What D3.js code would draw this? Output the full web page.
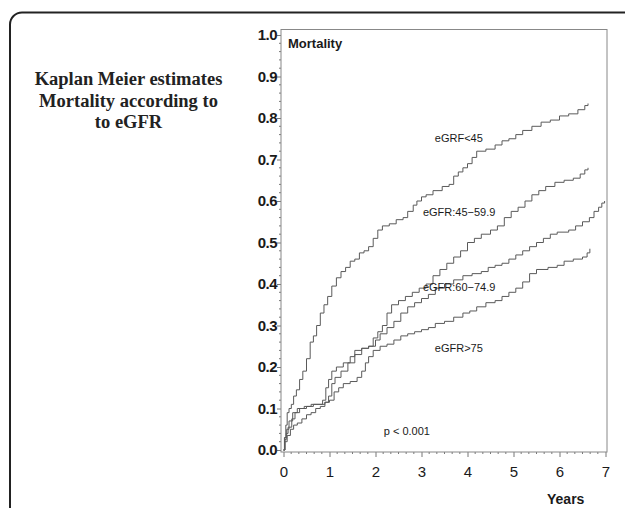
<!DOCTYPE html>
<html>
<head>
<meta charset="utf-8">
<script src="https://cdn.jsdelivr.net/npm/d3@7"></script>
<style>
  body { margin: 0; background: #fff; }
  svg { display: block; }
</style>
</head>
<body>
<div id="chart"></div>
<script>
// Kaplan Meier mortality by eGFR group, steps [years, mortality]
const gfrBelow45 = [[0,0],[0.02,0.03],[0.05,0.06],[0.08,0.09],[0.12,0.1],[0.17,0.11],[0.22,0.13],[0.28,0.145],[0.35,0.17],[0.42,0.19],[0.5,0.22],[0.58,0.26],[0.65,0.275],[0.72,0.3],[0.8,0.33],[0.88,0.35],[0.96,0.37],[1.05,0.395],[1.15,0.415],[1.25,0.43],[1.35,0.44],[1.45,0.455],[1.55,0.46],[1.65,0.475],[1.75,0.48],[1.85,0.49],[1.95,0.51],[2.05,0.53],[2.15,0.54],[2.3,0.545],[2.45,0.555],[2.6,0.56],[2.7,0.575],[2.82,0.59],[2.9,0.6],[3.0,0.61],[3.1,0.615],[3.25,0.625],[3.45,0.635],[3.6,0.64],[3.7,0.66],[3.8,0.67],[3.9,0.68],[4.0,0.69],[4.1,0.705],[4.2,0.72],[4.4,0.725],[4.6,0.735],[4.75,0.745],[4.9,0.75],[5.05,0.76],[5.2,0.77],[5.4,0.78],[5.6,0.79],[5.8,0.795],[6.0,0.805],[6.2,0.81],[6.4,0.82],[6.55,0.83],[6.62,0.835]]
const gfr45to59 = [[0,0],[0.03,0.03],[0.07,0.05],[0.12,0.07],[0.2,0.09],[0.3,0.1],[0.45,0.105],[0.6,0.11],[0.85,0.12],[0.92,0.15],[0.98,0.17],[1.05,0.19],[1.15,0.2],[1.3,0.21],[1.45,0.225],[1.55,0.24],[1.7,0.245],[1.85,0.25],[1.95,0.27],[2.05,0.285],[2.15,0.3],[2.25,0.33],[2.35,0.35],[2.5,0.36],[2.65,0.37],[2.8,0.38],[2.95,0.39],[3.1,0.4],[3.25,0.42],[3.4,0.435],[3.55,0.45],[3.7,0.465],[3.85,0.48],[4.0,0.5],[4.15,0.51],[4.3,0.52],[4.5,0.53],[4.65,0.54],[4.8,0.56],[4.95,0.575],[5.1,0.585],[5.25,0.6],[5.4,0.615],[5.55,0.625],[5.7,0.635],[5.9,0.645],[6.1,0.65],[6.3,0.655],[6.45,0.665],[6.55,0.675],[6.62,0.68]]
const gfr60to74 = [[0,0],[0.03,0.025],[0.06,0.04],[0.1,0.055],[0.18,0.075],[0.25,0.09],[0.35,0.1],[0.5,0.105],[0.65,0.11],[0.9,0.115],[0.98,0.13],[1.05,0.16],[1.12,0.175],[1.25,0.19],[1.4,0.21],[1.55,0.23],[1.7,0.245],[1.85,0.25],[2.0,0.265],[2.1,0.28],[2.25,0.295],[2.4,0.31],[2.55,0.33],[2.7,0.345],[2.85,0.355],[3.0,0.365],[3.15,0.375],[3.3,0.39],[3.5,0.4],[3.7,0.41],[3.9,0.42],[4.1,0.425],[4.3,0.43],[4.45,0.44],[4.6,0.445],[4.75,0.45],[4.9,0.46],[5.05,0.47],[5.2,0.48],[5.35,0.49],[5.5,0.5],[5.65,0.51],[5.8,0.52],[5.95,0.525],[6.2,0.53],[6.35,0.54],[6.5,0.55],[6.65,0.56],[6.75,0.575],[6.85,0.585],[6.92,0.595],[6.98,0.6]]
const gfrAbove75 = [[0,0],[0.03,0.02],[0.08,0.035],[0.15,0.05],[0.22,0.06],[0.3,0.065],[0.4,0.075],[0.5,0.085],[0.6,0.09],[0.7,0.1],[0.8,0.105],[0.9,0.115],[1.0,0.12],[1.1,0.14],[1.2,0.15],[1.3,0.16],[1.45,0.165],[1.6,0.175],[1.7,0.19],[1.78,0.21],[1.85,0.225],[1.95,0.24],[2.1,0.25],[2.25,0.255],[2.4,0.265],[2.55,0.275],[2.7,0.28],[2.85,0.285],[3.0,0.29],[3.15,0.295],[3.3,0.305],[3.5,0.31],[3.7,0.32],[3.9,0.33],[4.05,0.335],[4.2,0.345],[4.4,0.355],[4.6,0.36],[4.75,0.37],[4.9,0.38],[5.05,0.39],[5.2,0.405],[5.35,0.425],[5.5,0.435],[5.75,0.44],[5.95,0.445],[6.1,0.455],[6.3,0.46],[6.5,0.465],[6.6,0.475],[6.66,0.485]]

const curves = [gfrBelow45, gfr45to59, gfr60to74, gfrAbove75]

const xTicks = [0, 1, 2, 3, 4, 5, 6, 7]
const yTicks = [0, 0.1, 0.2, 0.3, 0.4, 0.5, 0.6, 0.7, 0.8, 0.9, 1.0]

// labels: text, years, mortality (baseline)
const curveLabels = [
    ["eGRF<45", 3.29, 0.742],
    ["eGFR:45\u221259.9", 3.03, 0.564],
    ["eGFR:60\u221274.9", 3.03, 0.383],
    ["eGFR>75", 3.29, 0.236],
    ["p < 0.001", 2.18, 0.036]
]

const titleLines = ["Kaplan Meier estimates", "Mortality according to", "to eGFR"]

const W = 625, H = 508

const svg = d3.select("#chart").append("svg")
              .attr("width", W)
              .attr("height", H)

// outer rounded box, runs off the right and bottom
svg.append("rect")
   .attr("x", 10).attr("y", 12.5)
   .attr("width", 700).attr("height", 600)
   .attr("rx", 12)
   .attr("fill", "none")
   .attr("stroke", "#222")
   .attr("stroke-width", 2)

const title = svg.append("text")
   .attr("font-family", "'Liberation Serif', 'Times New Roman', serif")
   .attr("font-weight", "bold")
   .attr("font-size", 18.5)
   .attr("fill", "#222")
   .attr("text-anchor", "middle")

title.selectAll("tspan")
     .data(titleLines)
     .join("tspan")
     .attr("x", 128.5)
     .attr("y", (d, i) => 85 + i * 21.5)
     .text(d => d)

const x = d3.scaleLinear()
            .domain([0, 7])
            .range([283.5, 605.5])

const y = d3.scaleLinear()
            .domain([0, 1])
            .range([450, 35])

const frame = {left: 281, right: 607, top: 29.5, bottom: 452}

const sans = "'Liberation Sans', Arial, Helvetica, sans-serif"

// minor ticks
const xMinor = d3.range(0, 7.001, 1 / 6).filter(v => Math.abs(v - Math.round(v)) > 0.01)
const yMinor = d3.range(0, 1.001, 0.02).filter(v => Math.abs(v * 10 - Math.round(v * 10)) > 0.01)

svg.append("g")
   .selectAll("line")
   .data(xMinor)
   .join("line")
   .attr("x1", d => x(d)).attr("x2", d => x(d))
   .attr("y1", frame.bottom).attr("y2", frame.bottom + 2)
   .attr("stroke", "#777")

svg.append("g")
   .selectAll("line")
   .data(yMinor)
   .join("line")
   .attr("y1", d => y(d)).attr("y2", d => y(d))
   .attr("x1", frame.left).attr("x2", frame.left - 2)
   .attr("stroke", "#777")

const xAxis = svg.append("g")
   .attr("transform", "translate(0," + frame.bottom + ")")
   .call(d3.axisBottom(x).tickValues(xTicks).tickFormat(d3.format("d")).tickSize(5).tickPadding(9))

xAxis.select(".domain").remove()
xAxis.selectAll(".tick line").attr("stroke", "#777")
xAxis.selectAll("text")
     .attr("font-family", sans)
     .attr("font-size", 15)
     .attr("fill", "#1a1a1a")

const yAxis = svg.append("g")
   .attr("transform", "translate(" + frame.left + ",0)")
   .call(d3.axisLeft(y).tickValues(yTicks).tickFormat(d3.format(".1f")).tickSize(4).tickPadding(0))

yAxis.select(".domain").remove()
yAxis.selectAll(".tick line").attr("stroke", "#777")
yAxis.selectAll("text")
     .attr("font-family", sans)
     .attr("font-weight", "bold")
     .attr("font-size", 15)
     .attr("letter-spacing", -0.5)
     .attr("fill", "#1a1a1a")

svg.append("rect")
   .attr("x", frame.left).attr("y", frame.top)
   .attr("width", frame.right - frame.left)
   .attr("height", frame.bottom - frame.top)
   .attr("fill", "none")
   .attr("stroke", "#888")
   .attr("stroke-width", 1)

const line = d3.line()
               .x(d => x(d[0]))
               .y(d => y(d[1]))
               .curve(d3.curveStepAfter)

svg.append("g")
   .selectAll("path")
   .data(curves)
   .join("path")
   .attr("d", line)
   .attr("fill", "none")
   .attr("stroke", "#5a5a5a")
   .attr("stroke-width", 1)

svg.append("g")
   .selectAll("text")
   .data(curveLabels)
   .join("text")
   .attr("x", d => x(d[1]))
   .attr("y", d => y(d[2]))
   .attr("font-family", sans)
   .attr("font-size", 11)
   .attr("fill", "#1a1a1a")
   .text(d => d[0])

svg.append("text")
   .attr("x", 288).attr("y", 48)
   .attr("font-family", sans)
   .attr("font-weight", "bold")
   .attr("font-size", 13)
   .attr("fill", "#1a1a1a")
   .text("Mortality")

svg.append("text")
   .attr("x", 547).attr("y", 504)
   .attr("font-family", sans)
   .attr("font-weight", "bold")
   .attr("font-size", 14)
   .attr("fill", "#1a1a1a")
   .text("Years")
</script>
</body>
</html>
